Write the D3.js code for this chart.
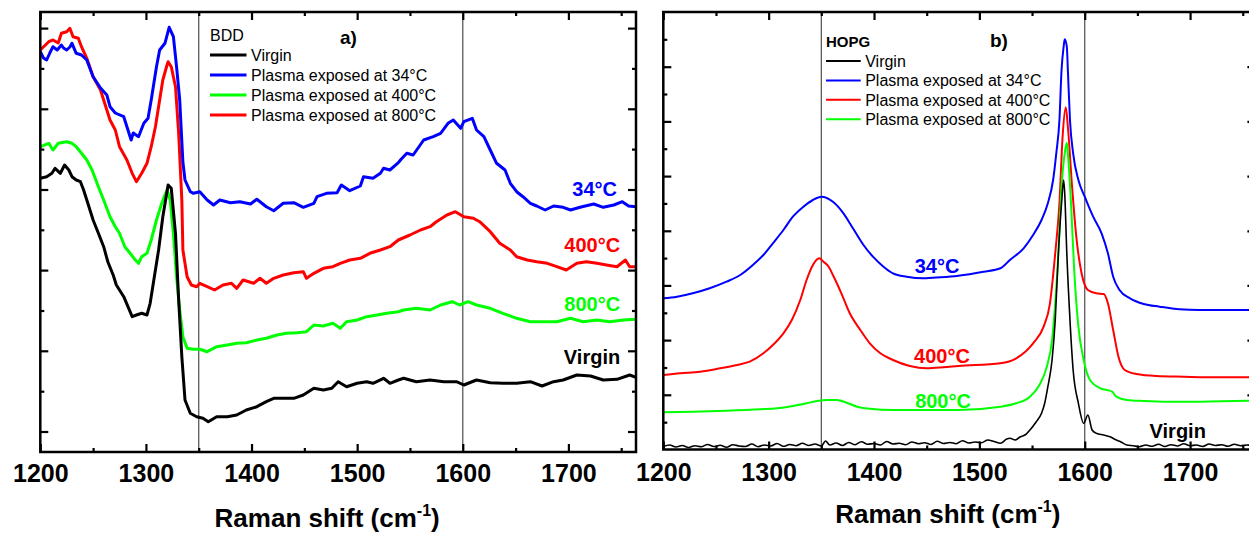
<!DOCTYPE html>
<html>
<head>
<meta charset="utf-8">
<script src="https://cdn.jsdelivr.net/npm/d3@7"></script>
<style>
  html, body { margin: 0; padding: 0; background: #fff; }
  svg { display: block; font-family: Arial, "Liberation Sans", sans-serif; }
</style>
</head>
<body>
<svg id="chart" width="1249" height="534"></svg>
<script>
const majorTicksX = [1200, 1300, 1400, 1500, 1600, 1700];
const minorTicksX = [1250, 1350, 1450, 1550, 1650, 1750];
const markerLines = [1350, 1600];

// BDD panel (a), intensity in arbitrary units
const bddTicksY = [205, 608, 1012, 1415, 1819, 2222, 2625, 3029, 3432, 3836, 4239];

const bddBlack = [[1200,2737],[1206,2753],[1211,2787],[1214,2837],[1219,2787],[1223,2870],[1227,2820],[1230,2753],[1234,2720],[1238,2703],[1241,2620],[1245,2487],[1250,2320],[1255,2187],[1260,2053],[1264,1900],[1269,1770],[1272,1670],[1279,1553],[1283,1453],[1287,1353],[1291,1370],[1296,1387],[1301,1370],[1304,1487],[1307,1687],[1312,2020],[1316,2353],[1321,2670],[1324,2637],[1328,2187],[1331,1520],[1334,953],[1337,520],[1342,387],[1348,353],[1354,337],[1359,303],[1367,353],[1377,353],[1386,370],[1395,420],[1405,453],[1414,503],[1421,537],[1430,537],[1440,537],[1449,570],[1459,637],[1468,620],[1476,637],[1482,703],[1490,653],[1500,687],[1509,703],[1515,687],[1525,737],[1531,687],[1539,720],[1544,737],[1556,703],[1569,720],[1582,703],[1594,703],[1601,670],[1613,720],[1626,693],[1638,687],[1651,687],[1664,703],[1675,660],[1686,703],[1695,720],[1708,770],[1721,760],[1733,720],[1746,727],[1758,770],[1764,747]];

const bddBlue = [[1200,4003],[1203,3940],[1206,3920],[1209,3990],[1212,4053],[1216,4020],[1220,4070],[1222,4040],[1225,4020],[1228,4050],[1230,4087],[1234,3987],[1239,3970],[1244,3920],[1250,3753],[1257,3640],[1263,3570],[1266,3453],[1271,3390],[1279,3353],[1283,3220],[1286,3120],[1288,3190],[1293,3153],[1298,3287],[1302,3337],[1305,3520],[1310,3853],[1313,4020],[1318,4087],[1322,4247],[1326,4153],[1329,3853],[1332,3520],[1335,2900],[1337,2720],[1342,2603],[1345,2587],[1351,2603],[1358,2520],[1364,2470],[1370,2520],[1380,2493],[1389,2503],[1399,2480],[1405,2527],[1414,2453],[1421,2413],[1430,2487],[1440,2493],[1449,2447],[1459,2487],[1462,2553],[1471,2587],[1481,2593],[1485,2670],[1493,2613],[1503,2660],[1506,2753],[1515,2737],[1522,2787],[1525,2837],[1531,2820],[1539,2893],[1541,2920],[1547,2987],[1553,2970],[1563,3120],[1572,3153],[1579,3187],[1586,3287],[1591,3320],[1598,3237],[1601,3303],[1609,3337],[1613,3220],[1620,3153],[1626,3020],[1632,2887],[1640,2820],[1645,2687],[1651,2603],[1657,2553],[1664,2487],[1670,2460],[1678,2420],[1686,2460],[1695,2447],[1702,2420],[1711,2447],[1724,2480],[1733,2447],[1743,2470],[1751,2503],[1757,2460],[1764,2453]];

const bddGreen = [[1200,3053],[1208,3087],[1212,3020],[1217,3087],[1225,3103],[1230,3087],[1234,3053],[1239,2987],[1244,2920],[1249,2820],[1255,2653],[1260,2520],[1266,2353],[1271,2253],[1275,2187],[1280,2053],[1285,1987],[1290,1920],[1293,1887],[1296,1953],[1301,1987],[1305,2120],[1310,2320],[1315,2487],[1318,2570],[1320,2620],[1323,2520],[1326,2187],[1329,1753],[1332,1420],[1335,1153],[1339,1037],[1345,1027],[1351,1027],[1358,1003],[1367,1053],[1377,1070],[1386,1087],[1395,1093],[1405,1120],[1414,1137],[1424,1170],[1433,1187],[1443,1193],[1452,1203],[1459,1270],[1468,1260],[1477,1287],[1484,1237],[1490,1303],[1500,1320],[1509,1353],[1519,1370],[1528,1387],[1539,1403],[1544,1420],[1556,1437],[1569,1420],[1579,1470],[1590,1503],[1597,1470],[1605,1503],[1613,1470],[1626,1437],[1638,1387],[1651,1337],[1664,1303],[1676,1303],[1689,1303],[1702,1337],[1714,1303],[1727,1320],[1739,1303],[1752,1320],[1764,1327]];

const bddRed = [[1200,4020],[1208,4103],[1212,4120],[1217,4090],[1220,4187],[1225,4203],[1228,4237],[1231,4153],[1236,4137],[1239,4053],[1244,3937],[1250,3753],[1257,3620],[1260,3520],[1266,3320],[1271,3220],[1275,3053],[1282,2920],[1287,2787],[1291,2703],[1296,2787],[1301,2887],[1305,3053],[1309,3253],[1313,3520],[1316,3720],[1320,3870],[1321,3903],[1324,3853],[1328,3653],[1331,3187],[1334,2520],[1335,2020],[1339,1753],[1343,1670],[1348,1653],[1351,1687],[1358,1653],[1365,1620],[1373,1670],[1381,1687],[1386,1637],[1392,1720],[1402,1687],[1408,1737],[1414,1687],[1421,1737],[1430,1770],[1440,1793],[1449,1803],[1452,1737],[1459,1787],[1468,1837],[1477,1853],[1484,1887],[1493,1920],[1503,1937],[1512,1987],[1522,2020],[1531,2053],[1539,2120],[1550,2170],[1560,2220],[1569,2253],[1575,2303],[1585,2370],[1593,2403],[1601,2353],[1610,2337],[1616,2303],[1626,2203],[1635,2087],[1645,2020],[1651,1953],[1661,1920],[1670,1903],[1680,1887],[1689,1853],[1698,1820],[1708,1887],[1717,1903],[1727,1887],[1736,1870],[1746,1853],[1754,1920],[1758,1853],[1764,1853]];

// HOPG panel (b), intensity in arbitrary units
const hopgTicksY = [273, 547, 820, 1094, 1367, 1641, 1914, 2187, 2461, 2734, 3008, 3281, 3555, 3828, 4102];

const hopgBlack = [[1200,30],[1206,45],[1212,25],[1218,40],[1224,20],[1230,38],[1236,28],[1242,50],[1248,30],[1254,42],[1260,22],[1266,48],[1272,35],[1278,30],[1284,55],[1290,28],[1296,45],[1302,35],[1308,60],[1314,32],[1320,50],[1326,38],[1332,62],[1338,40],[1344,55],[1350,35],[1354,85],[1358,45],[1364,65],[1370,40],[1376,70],[1382,48],[1388,78],[1394,52],[1400,60],[1406,45],[1412,80],[1418,55],[1424,62],[1430,48],[1436,75],[1442,58],[1448,68],[1454,50],[1460,82],[1466,60],[1472,70],[1478,58],[1484,88],[1490,65],[1496,75],[1502,68],[1508,95],[1514,80],[1520,62],[1526,105],[1529,112],[1534,95],[1539,128],[1544,150],[1548,195],[1554,278],[1559,362],[1562,462],[1565,628],[1569,895],[1572,1295],[1575,1962],[1578,2462],[1580,2695],[1581,2562],[1583,1962],[1586,1295],[1589,795],[1594,462],[1599,262],[1603,345],[1607,195],[1611,162],[1618,145],[1624,128],[1629,100],[1634,78],[1640,45],[1646,38],[1652,28],[1658,45],[1664,32],[1670,52],[1676,30],[1682,48],[1688,35],[1694,58],[1700,38],[1706,45],[1712,30],[1718,55],[1724,40],[1730,48],[1736,32],[1742,52],[1748,38],[1754,45],[1760,35]];

const hopgBlue = [[1200,1512],[1213,1528],[1228,1562],[1244,1612],[1260,1678],[1273,1745],[1285,1845],[1295,1945],[1304,2062],[1314,2195],[1323,2328],[1333,2428],[1342,2495],[1350,2528],[1361,2478],[1371,2362],[1380,2212],[1390,2045],[1399,1928],[1409,1828],[1418,1762],[1431,1728],[1447,1712],[1463,1722],[1480,1738],[1504,1778],[1520,1812],[1529,1895],[1542,2012],[1551,2145],[1559,2295],[1565,2462],[1570,2695],[1573,2962],[1576,3295],[1578,3795],[1580,4028],[1581,4102],[1583,4028],[1584,3795],[1586,3295],[1589,2962],[1594,2695],[1600,2528],[1608,2328],[1616,2162],[1622,1962],[1627,1728],[1633,1595],[1643,1512],[1656,1455],[1671,1428],[1690,1402],[1709,1395],[1735,1395],[1762,1395]];

const hopgRed = [[1200,745],[1216,762],[1235,778],[1254,812],[1270,845],[1282,878],[1295,962],[1304,1045],[1314,1162],[1322,1295],[1330,1495],[1336,1695],[1342,1845],[1348,1912],[1352,1878],[1357,1828],[1361,1745],[1369,1562],[1377,1362],[1387,1195],[1396,1062],[1406,962],[1418,895],[1434,835],[1450,812],[1466,822],[1480,835],[1520,862],[1535,912],[1551,1062],[1561,1228],[1567,1462],[1572,1962],[1576,2462],[1579,3128],[1582,3422],[1584,3228],[1588,2628],[1592,2128],[1597,1762],[1603,1595],[1611,1562],[1618,1555],[1622,1462],[1627,1195],[1632,928],[1638,795],[1649,755],[1668,735],[1694,728],[1725,722],[1762,722]];

const hopgGreen = [[1200,372],[1228,378],[1260,388],[1292,402],[1308,412],[1323,435],[1336,462],[1346,485],[1355,495],[1365,495],[1374,468],[1384,428],[1396,408],[1418,395],[1450,395],[1480,395],[1520,428],[1535,462],[1548,528],[1557,645],[1564,828],[1569,1095],[1572,1462],[1575,1962],[1578,2628],[1581,2962],[1583,3068],[1584,2962],[1587,2462],[1590,1795],[1594,1228],[1599,895],[1605,695],[1615,612],[1621,595],[1626,578],[1630,528],[1640,495],[1656,485],[1678,478],[1710,478],[1762,488]];

const legendNames = ["Virgin", "Plasma exposed at 34°C", "Plasma exposed at 400°C", "Plasma exposed at 800°C"];
const bddLegendColors = ["#000000", "#0000ff", "#00ff00", "#ff0000"];
const hopgLegendColors = ["#000000", "#0000ff", "#ff0000", "#00ff00"];

const bddLabels = [
  { text: "34°C", x: 1746, y: 2560, color: "#0000ff" },
  { text: "400°C", x: 1749, y: 2000, color: "#ff0000" },
  { text: "800°C", x: 1749, y: 1415, color: "#00ff00" },
  { text: "Virgin", x: 1749, y: 880, color: "#000000" },
];
const hopgLabels = [
  { text: "34°C", x: 1481, y: 1768, color: "#0000ff" },
  { text: "400°C", x: 1491, y: 870, color: "#ff0000" },
  { text: "800°C", x: 1492, y: 420, color: "#00ff00" },
  { text: "Virgin", x: 1715, y: 115, color: "#000000" },
];

const svg = d3.select("#chart");

function drawPanel(opts) {
  const x = d3.scaleLinear().domain(opts.xDomain).range([opts.left, opts.right]);
  const y = d3.scaleLinear().domain(opts.yDomain).range([opts.bottom, opts.top]);
  const g = svg.append("g");

  const clipId = "clip-" + opts.name;
  g.append("clipPath")
    .attr("id", clipId)
    .append("rect")
    .attr("x", opts.left)
    .attr("y", opts.top)
    .attr("width", opts.right - opts.left)
    .attr("height", opts.bottom - opts.top);

  // reference lines at 1350 and 1600
  g.append("g")
    .selectAll("line")
    .data(markerLines)
    .join("line")
    .attr("x1", (d) => x(d))
    .attr("x2", (d) => x(d))
    .attr("y1", opts.top)
    .attr("y2", opts.bottom)
    .attr("stroke", "#5a5a5a")
    .attr("stroke-width", 1.3);

  const line = d3
    .line()
    .curve(opts.curve)
    .x((d) => x(d[0]))
    .y((d) => y(d[1]));

  g.append("g")
    .attr("clip-path", `url(#${clipId})`)
    .selectAll("path")
    .data(opts.series)
    .join("path")
    .attr("fill", "none")
    .attr("stroke", (s) => s.color)
    .attr("stroke-width", (s) => s.width)
    .attr("stroke-linejoin", "round")
    .attr("d", (s) => line(s.values));

  // ticks: major/minor, all pointing inward
  const majorY = opts.yTicks.filter((_, i) => i % 2 === opts.majorParity);
  const minorY = opts.yTicks.filter((_, i) => i % 2 !== opts.majorParity);

  const axes = [
    [d3.axisBottom(x).tickValues(majorTicksX).tickSize(-8).tickPadding(opts.labelPad).tickFormat(d3.format("d")), `translate(0,${opts.bottom})`],
    [d3.axisBottom(x).tickValues(minorTicksX).tickSize(-4).tickFormat(""), `translate(0,${opts.bottom})`],
    [d3.axisTop(x).tickValues(majorTicksX).tickSize(-8).tickFormat(""), `translate(0,${opts.top})`],
    [d3.axisTop(x).tickValues(minorTicksX).tickSize(-4).tickFormat(""), `translate(0,${opts.top})`],
    [d3.axisLeft(y).tickValues(majorY).tickSize(-8).tickFormat(""), `translate(${opts.left},0)`],
    [d3.axisLeft(y).tickValues(minorY).tickSize(-4).tickFormat(""), `translate(${opts.left},0)`],
    [d3.axisRight(y).tickValues(majorY).tickSize(-8).tickFormat(""), `translate(${opts.right},0)`],
    [d3.axisRight(y).tickValues(minorY).tickSize(-4).tickFormat(""), `translate(${opts.right},0)`],
  ];

  for (const [axis, transform] of axes) {
    const a = g.append("g").attr("transform", transform).call(axis);
    a.select(".domain").remove();
    a.selectAll(".tick line").attr("stroke", "#000").attr("stroke-width", 2.2);
    a.selectAll(".tick text")
      .attr("fill", "#000")
      .attr("font-size", 25)
      .attr("font-weight", "bold")
      .attr("font-family", "Arial, 'Liberation Sans', sans-serif");
  }

  g.append("rect")
    .attr("x", opts.left)
    .attr("y", opts.top)
    .attr("width", opts.right - opts.left)
    .attr("height", opts.bottom - opts.top)
    .attr("fill", "none")
    .attr("stroke", "#000")
    .attr("stroke-width", 2.5);

  // labels next to the curves
  g.append("g")
    .selectAll("text")
    .data(opts.labels)
    .join("text")
    .attr("x", (d) => x(d.x))
    .attr("y", (d) => y(d.y))
    .attr("text-anchor", "end")
    .attr("font-size", 20)
    .attr("font-weight", "bold")
    .attr("fill", (d) => d.color)
    .text((d) => d.text);

  // legend
  const lg = g.append("g").attr("transform", `translate(${opts.legend.x},0)`);
  lg.append("text")
    .attr("x", 0)
    .attr("y", opts.legend.titleY)
    .attr("font-size", opts.legend.titleSize)
    .attr("font-weight", opts.legend.titleWeight)
    .text(opts.legend.title);

  const rows = lg
    .selectAll("g.row")
    .data(legendNames)
    .join("g")
    .attr("class", "row")
    .attr("transform", (_, i) => `translate(0,${opts.legend.firstY + i * opts.legend.step})`);
  rows
    .append("line")
    .attr("x1", 0)
    .attr("x2", opts.legend.lineLen)
    .attr("stroke", (_, i) => opts.legend.colors[i])
    .attr("stroke-width", opts.legend.lineWidth);
  rows
    .append("text")
    .attr("x", opts.legend.lineLen + 4.5)
    .attr("y", 5.8)
    .attr("font-size", 16)
    .text((d) => d);

  g.append("text")
    .attr("x", opts.tag.x)
    .attr("y", opts.tag.y)
    .attr("font-size", 19)
    .attr("font-weight", "bold")
    .text(opts.tag.text);

  const title = g
    .append("text")
    .attr("x", (opts.left + opts.right) / 2 + opts.titleShift)
    .attr("y", opts.titleY)
    .attr("text-anchor", "middle")
    .attr("font-size", 26)
    .attr("font-weight", "bold");
  title.append("tspan").text("Raman shift (cm");
  title.append("tspan").attr("font-size", 16).attr("dy", -11).text("-1");
  title.append("tspan").attr("dy", 11).text(")");
}

drawPanel({
  name: "bdd",
  left: 40.3, right: 636, top: 12, bottom: 452,
  xDomain: [1200, 1764], yDomain: [0, 4400],
  yTicks: bddTicksY, majorParity: 0, labelPad: 12,
  curve: d3.curveLinear,
  series: [
    { values: bddGreen, color: "#00ff00", width: 3 },
    { values: bddBlack, color: "#000000", width: 3 },
    { values: bddRed, color: "#ff0000", width: 3 },
    { values: bddBlue, color: "#0000ff", width: 3 },
  ],
  labels: bddLabels,
  legend: { x: 210, title: "BDD", titleY: 40.5, titleSize: 16, titleWeight: "normal", firstY: 55, step: 20, lineLen: 36.5, lineWidth: 3, colors: bddLegendColors },
  tag: { text: "a)", x: 340, y: 43.5 },
  titleShift: -11, titleY: 526.5,
});

drawPanel({
  name: "hopg",
  left: 663.3, right: 1255.4, top: 12, bottom: 449.5,
  xDomain: [1200, 1762], yDomain: [0, 4375],
  yTicks: hopgTicksY, majorParity: 1, labelPad: 13.5,
  curve: d3.curveMonotoneX,
  series: [
    { values: hopgBlue, color: "#0000ff", width: 2 },
    { values: hopgRed, color: "#ff0000", width: 2 },
    { values: hopgGreen, color: "#00ff00", width: 2 },
    { values: hopgBlack, color: "#000000", width: 1.6 },
  ],
  labels: hopgLabels,
  legend: { x: 826, title: "HOPG", titleY: 46.7, titleSize: 15, titleWeight: "bold", firstY: 61, step: 19.4, lineLen: 34.7, lineWidth: 2, colors: hopgLegendColors },
  tag: { text: "b)", x: 990, y: 46.5 },
  titleShift: -11.5, titleY: 522.5,
});
</script>
</body>
</html>
